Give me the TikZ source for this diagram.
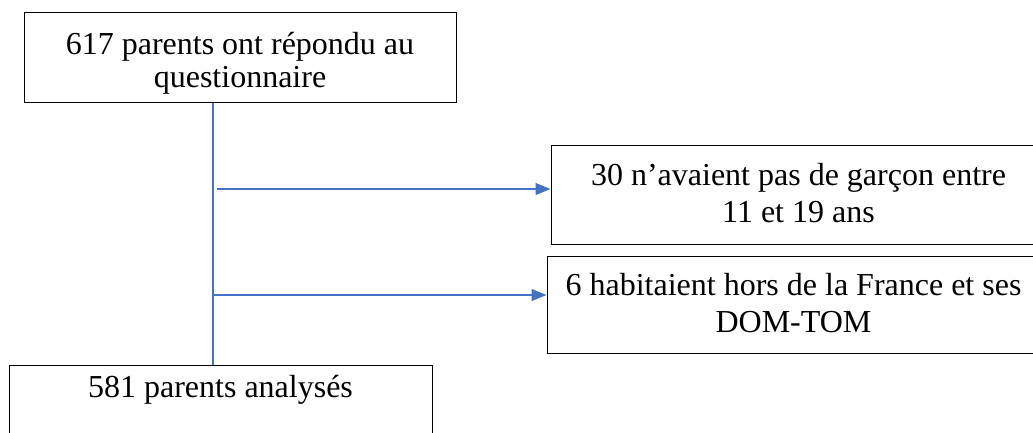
\documentclass[tikz,border=0pt]{standalone}
\usepackage{fontspec}
\setmainfont{Liberation Serif}
\usepackage{xcolor}
\usepackage{tikz}
\usetikzlibrary{positioning,arrows.meta}

\definecolor{flowblue}{HTML}{4472C4}
\newcommand{\gapabove}[1]{\rule{0pt}{#1}}
\newcommand{\gapbelow}[1]{\rule[-#1]{0pt}{#1}}

\begin{document}
\begin{tikzpicture}[x=1pt,y=-1pt,
    box/.style={draw=black,line width=1pt,align=center,inner sep=0pt,anchor=north,
      font=\fontsize{32}{37}\selectfont},
    link/.style={draw=flowblue,line width=1.2pt},
    arrow/.style={link,-{Triangle[length=15pt,width=12pt]}}]
    \clip (0,0) rectangle (1033,432);
    \node[box,minimum width=432pt,font=\fontsize{32}{33}\selectfont] (start) at (240,12)
      {\gapabove{42pt}617 parents ont répondu au\\questionnaire\gapbelow{15pt}};
    \node[box,minimum width=495pt] (nogirl) at (798.5,145)
      {\gapabove{40pt}30 n’avaient pas de garçon entre\\11 et 19 ans\gapbelow{22pt}};
    \node[box,minimum width=493pt] (abroad) at (793.5,256)
      {\gapabove{39pt}6 habitaient hors de la France et ses\\DOM-TOM\gapbelow{21pt}};
    \node[box,minimum width=423pt] (final) at (220.5,365)
      {\gapabove{32pt}581 parents analysés\gapbelow{60pt}};
    % trunk and branches
    \coordinate (trunk) at (213,0);
    \coordinate (b1) at (217,189);
    \coordinate (b2) at (213,295);
    \draw[link] (trunk |- start.south) -- (trunk |- final.north);
    \draw[arrow] (b1) -- (b1 -| nogirl.west);
    \draw[arrow] (b2) -- (b2 -| abroad.west);
\end{tikzpicture}
\end{document}
